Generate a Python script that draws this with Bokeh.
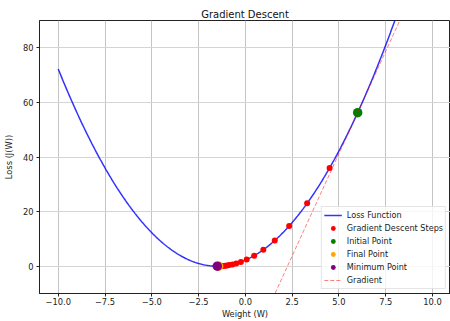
import numpy as np
from bokeh.plotting import figure
from bokeh.models import Range1d, FixedTicker, Legend, LegendItem
from bokeh.embed import file_html
from bokeh.resources import INLINE

# ---- data ----
min_w = -1.5           # minimum of the loss J(w) = (w - min_w)^2
min_loss = 0.0
curve_start, curve_end = -10.0, 10.0

step_w = [6.00, 4.50, 3.30, 2.34, 1.57, 0.96, 0.47, 0.07, -0.24, -0.49, -0.69,
          -0.86, -0.98, -1.08, -1.17, -1.24, -1.29, -1.33, -1.36, -1.39, -1.41,
          -1.43, -1.44, -1.45, -1.46]
step_loss = [56.25, 36.00, 23.04, 14.75, 9.44, 6.04, 3.87, 2.47, 1.58, 1.01, 0.65,
             0.41, 0.27, 0.17, 0.11, 0.07, 0.04, 0.03, 0.02, 0.01, 0.01,
             0.00, 0.00, 0.00, 0.00]
init_w, init_loss = 6.0, 56.25
final_w, final_loss = -1.43, 0.0
grad_slope = 15.0

x_ticks = [-10.0, -7.5, -5.0, -2.5, 0.0, 2.5, 5.0, 7.5, 10.0]
x_tick_labels = ["−10.0", "−7.5", "−5.0", "−2.5", "0.0", "2.5", "5.0", "7.5", "10.0"]
y_ticks = [0, 20, 40, 60, 80]
y_tick_labels = ["0", "20", "40", "60", "80"]

# loss curve (the quadratic function)
cw = np.linspace(curve_start, curve_end, 400)
cl = (cw - min_w) ** 2
# tangent line at the initial point
gw = np.array([curve_start, curve_end])
gl = init_loss + grad_slope * (gw - init_w)

FONT = "DejaVu Sans"

p = figure(width=450, height=321, output_backend="svg",
           toolbar_location=None, x_range=Range1d(-11.0, 10.96),
           y_range=Range1d(-10, 90), title="Gradient Descent",
           min_border_left=38, min_border_right=0, min_border_top=20,
           min_border_bottom=26)
p.background_fill_color = "white"
p.outline_line_color = "#222222"
p.outline_line_width = 1

p.title.text_font = FONT
p.title.text_font_size = "10px"
p.title.text_font_style = "normal"
p.title.align = "center"
p.title.text_color = "#111111"
p.title.offset = 0
p.title.standoff = 2

for ax in (p.xaxis[0], p.yaxis[0]):
    ax.major_label_text_font = FONT
    ax.major_label_text_font_size = "8.3px"
    ax.major_label_text_color = "#222222"
    ax.axis_label_text_font = FONT
    ax.axis_label_text_font_size = "8.3px"
    ax.axis_label_text_font_style = "normal"
    ax.axis_label_text_color = "#222222"
    ax.major_tick_in = 0
    ax.major_tick_out = 3
    ax.minor_tick_line_color = None
    ax.axis_line_color = "#222222"
    ax.major_tick_line_color = "#222222"
    ax.major_label_standoff = 1
    ax.axis_label_standoff = 1

p.yaxis.major_label_standoff = 3
p.yaxis.axis_label_standoff = 6

p.xaxis.ticker = FixedTicker(ticks=x_ticks)
p.xaxis.major_label_overrides = dict(zip(x_ticks, x_tick_labels))
p.yaxis.ticker = FixedTicker(ticks=y_ticks)
p.yaxis.major_label_overrides = dict(zip(y_ticks, y_tick_labels))
p.xaxis.axis_label = "Weight (W)"
p.yaxis.axis_label = "Loss (J(W))"

p.xgrid.grid_line_color = "#c4c4c4"
p.ygrid.grid_line_color = "#d4d4d4"
p.xgrid.grid_line_width = 1
p.ygrid.grid_line_width = 1.2

r_loss = p.line(cw, cl, line_color="blue", line_width=1.5, line_alpha=0.8)
r_steps = p.scatter(step_w, step_loss, size=6, fill_color="red", line_color="red",
                    line_alpha=0.0)
r_init = p.scatter([init_w], [init_loss], size=9.5, fill_color="green", line_alpha=0.0)
r_final = p.scatter([final_w], [final_loss], size=9.5, fill_color="orange", line_alpha=0.0)
r_min = p.scatter([min_w], [min_loss], size=9.5, fill_color="purple", line_alpha=0.0)
r_grad = p.line(gw, gl, line_color="red", line_width=1, line_alpha=0.5, line_dash="4 2")

legend = Legend(items=[
    LegendItem(label="Loss Function", renderers=[r_loss]),
    LegendItem(label="Gradient Descent Steps", renderers=[r_steps]),
    LegendItem(label="Initial Point", renderers=[r_init]),
    LegendItem(label="Final Point", renderers=[r_final]),
    LegendItem(label="Minimum Point", renderers=[r_min]),
    LegendItem(label="Gradient", renderers=[r_grad]),
], location="bottom_right")
legend.label_text_font = FONT
legend.label_text_font_size = "8.1px"
legend.label_text_color = "#222222"
legend.glyph_width = 18
legend.glyph_height = 12
legend.label_height = 11
legend.label_standoff = 5
legend.spacing = 1
legend.padding = 2
legend.margin = 4
legend.border_line_color = "#cccccc"
legend.background_fill_alpha = 0.8
p.add_layout(legend, "center")

open("out.html", "w").write(file_html(p, INLINE))
